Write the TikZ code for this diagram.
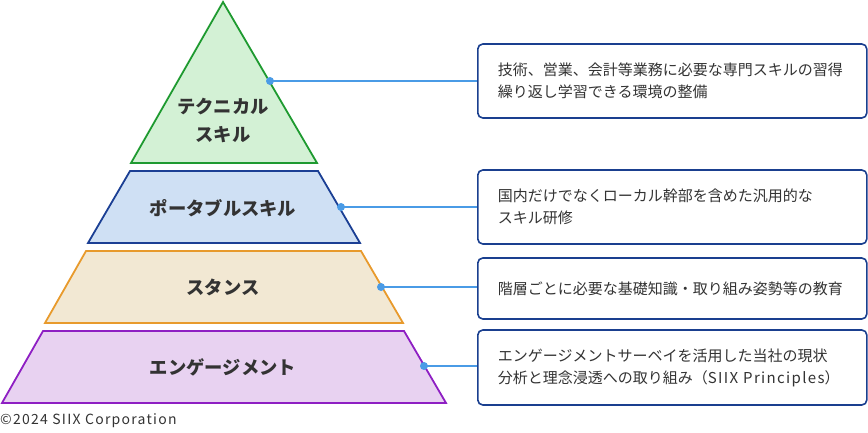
\documentclass[tikz,border=0pt]{standalone}
\usepackage{fontspec}
\setmainfont{Noto Sans CJK JP}
\newfontfamily\spaced{Noto Sans CJK JP}[LetterSpace=9]
\begin{document}
\definecolor{gstroke}{HTML}{1E9A30}
\definecolor{gfill}{HTML}{D3F1D5}
\definecolor{bstroke}{HTML}{1B3F94}
\definecolor{bfill}{HTML}{CFE0F4}
\definecolor{ostroke}{HTML}{E89A2C}
\definecolor{ofill}{HTML}{F2E8D3}
\definecolor{pstroke}{HTML}{8E1FC3}
\definecolor{pfill}{HTML}{E8D2F1}
\definecolor{boxline}{HTML}{1A3F8F}
\definecolor{conn}{HTML}{4A9BE6}
\definecolor{txt}{HTML}{333333}
\begin{tikzpicture}[x=1pt,y=-1pt,
  layer/.style={line width=1.8pt, line join=miter},
  lbl/.style={text=txt, font=\fontsize{18.3}{28}\selectfont\bfseries, align=center, inner sep=0pt},
  infobox/.style={draw=boxline, line width=1.6pt, rounded corners=5pt, fill=white,
     anchor=west, minimum width=389pt, text width=349pt, inner xsep=20pt, align=left,
     text=txt, font=\fontsize{15}{22}\selectfont},
  dot/.style={circle, fill=conn, inner sep=0pt, minimum size=8pt},
  link/.style={draw=conn, line width=1.6pt}]
\useasboundingbox (0,0) rectangle (868,433);
% pyramid layers
\draw[layer, draw=gstroke, fill=gfill] (223,2) -- (317,163) -- (131,163) -- cycle;
\draw[layer, draw=bstroke, fill=bfill] (130,171) -- (318,171) -- (360,243) -- (88,243) -- cycle;
\draw[layer, draw=ostroke, fill=ofill] (86,251) -- (361,251) -- (403,323) -- (45,323) -- cycle;
\draw[layer, draw=pstroke, fill=pfill] (43,331) -- (404,331) -- (446,403) -- (2,403) -- cycle;
% labels
\node[lbl] (l1) at (223,120) {テクニカル\\スキル};
\node[lbl] (l2) at (223,208) {ポータブルスキル};
\node[lbl] (l3) at (223,287) {スタンス};
\node[lbl] (l4) at (223,367) {エンゲージメント};
% boxes
\node[infobox, minimum height=74pt] (b1) at (477,81) {技術、営業、会計等業務に必要な専門スキルの習得\\繰り返し学習できる環境の整備};
\node[infobox, minimum height=74pt] (b2) at (477,207) {国内だけでなくローカル幹部を含めた汎用的な\\スキル研修};
\node[infobox, minimum height=61pt] (b3) at (477,288.5) {階層ごとに必要な基礎知識・取り組み姿勢等の教育};
\node[infobox, minimum height=75pt] (b4) at (477,367.5) {エンゲージメントサーベイを活用した当社の現状\\分析と理念浸透への取り組み（{\spaced SIIX Principles}）};
% connectors
\coordinate (d1) at (270,81);
\coordinate (d2) at (341,207);
\coordinate (d3) at (381,287);
\coordinate (d4) at (424,366);
\draw[link] (d1) -- (d1 -| b1.west);
\draw[link] (d2) -- (d2 -| b2.west);
\draw[link] (d3) -- (d3 -| b3.west);
\draw[link] (d4) -- (d4 -| b4.west);
\node[dot] (p1) at (d1) {};
\node[dot] (p2) at (d2) {};
\node[dot] (p3) at (d3) {};
\node[dot] (p4) at (d4) {};
% copyright
\node[anchor=west, inner sep=0pt, text=txt, font=\fontsize{14}{16}\selectfont\spaced] (copy) at (0,421) {©2024 SIIX Corporation};
\end{tikzpicture}
\end{document}
